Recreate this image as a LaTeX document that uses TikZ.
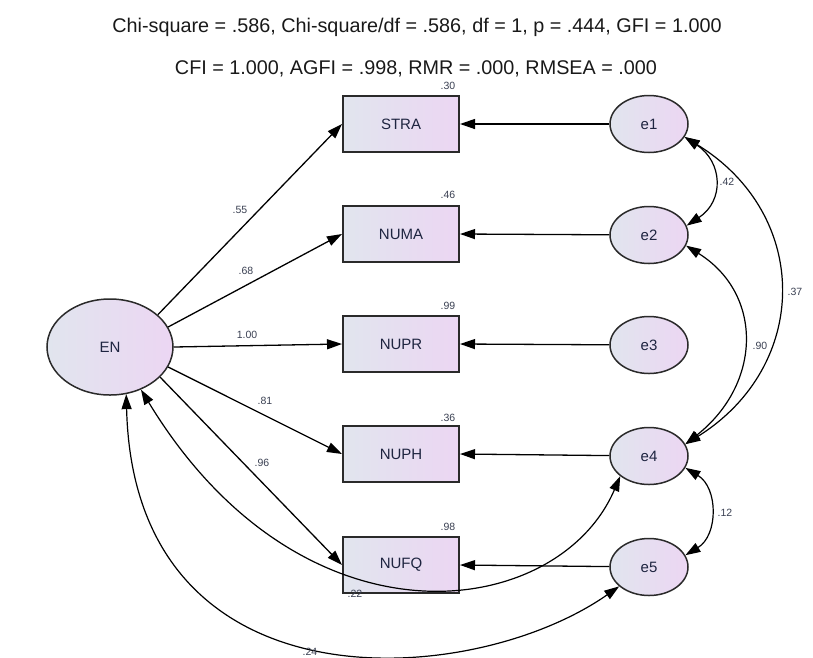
\documentclass[tikz,border=0pt]{standalone}
\usepackage{fontspec}
\setmainfont{Liberation Sans}
\usetikzlibrary{arrows.meta,shapes.geometric}
\definecolor{fillL}{HTML}{E1E5EE}
\definecolor{fillR}{HTML}{ECD6F3}
\definecolor{ink}{HTML}{1E2440}
\definecolor{coef}{HTML}{3A4052}
\definecolor{edge}{HTML}{2A2A2A}
\begin{document}
\begin{tikzpicture}[x=1pt,y=-1pt,
  >={Triangle[length=15pt,width=10pt]},
  latent/.style={ellipse, draw=edge, line width=1.5pt, left color=fillL, right color=fillR,
    minimum width=126pt, minimum height=96pt, inner sep=0pt,
    font=\fontsize{15}{18}\selectfont, text=ink},
  errv/.style={ellipse, draw=edge, line width=1.5pt, left color=fillL, right color=fillR,
    minimum width=78pt, minimum height=57pt, inner sep=0pt,
    font=\fontsize{15}{18}\selectfont, text=ink},
  obsbox/.style={rectangle, draw=edge, line width=2pt, left color=fillL, right color=fillR,
    minimum width=116pt, minimum height=56pt, inner sep=0pt,
    font=\fontsize{15}{18}\selectfont, text=ink},
  coeflab/.style={font=\fontsize{10.5}{12}\selectfont, text=coef, inner sep=0pt},
  fitlab/.style={font=\fontsize{19.8}{23}\selectfont, text=black!90, inner sep=0pt},
  regpath/.style={->, line width=1.3pt, draw=black},
  covpath/.style={<->, line width=1.2pt, draw=black}]

\useasboundingbox (0,0) rectangle (813,657);

% fit indices
\node[fitlab] (fit1) at (417,27) {Chi-square = .586, Chi-square/df = .586, df = 1, p = .444, GFI = 1.000};
\node[fitlab] (fit2) at (416,69) {CFI = 1.000, AGFI = .998, RMR = .000, RMSEA = .000};

% latent factor
\node[latent] (EN) at (110,347) {EN};

% observed indicators
\node[obsbox] (STRA) at (401,124) {STRA};
\node[obsbox] (NUMA) at (401,234) {NUMA};
\node[obsbox] (NUPR) at (401,344) {NUPR};
\node[obsbox] (NUPH) at (401,454) {NUPH};
\node[obsbox] (NUFQ) at (401,565) {NUFQ};

% error terms
\node[errv] (e1) at (649,124) {e1};
\node[errv] (e2) at (649,235) {e2};
\node[errv] (e3) at (649,345) {e3};
\node[errv] (e4) at (649,456) {e4};
\node[errv] (e5) at (649,567) {e5};

% squared multiple correlations
\node[coeflab] (r1) at (448,86) {.30};
\node[coeflab] (r2) at (448,195) {.46};
\node[coeflab] (r3) at (448,306) {.99};
\node[coeflab] (r4) at (448,418) {.36};
\node[coeflab] (r5) at (448,527) {.98};

% factor loadings
\draw[regpath] (EN.34) -- (STRA.west);
\draw[regpath] (EN.19) -- (NUMA.west);
\draw[regpath] (EN.0) -- (NUPR.west);
\draw[regpath] (EN.-19) -- (NUPH.west);
\draw[regpath] (EN.-31) -- (NUFQ.west);
\node[coeflab] (l1) at (240,210) {.55};
\node[coeflab] (l2) at (246,271) {.68};
\node[coeflab] (l3) at (247,335) {1.00};
\node[coeflab] (l4) at (265,401) {.81};
\node[coeflab] (l5) at (262,463) {.96};

% error paths
\draw[regpath] (e1) -- (STRA.east);
\draw[regpath] (e2) -- (NUMA.east);
\draw[regpath] (e3) -- (NUPR.east);
\draw[regpath] (e4) -- (NUPH.east);
\draw[regpath] (e5) -- (NUFQ.east);

% covariances among errors
\draw[covpath] (e1.-20) .. controls +(38,25) and +(38,-25) .. (e2.14);
\draw[covpath] (e1.-20) .. controls +(127,78) and +(125,-78) .. (e4.18);
\draw[covpath] (e2.-16) .. controls +(77,48) and +(77,-61) .. (e4.18);
\draw[covpath] (e4.-18) .. controls +(33,20) and +(33,-20) .. (e5.18);
\node[coeflab] (c12) at (727,182) {.42};
\node[coeflab] (c14) at (795,292) {.37};
\node[coeflab] (c24) at (760,346) {.90};
\node[coeflab] (c45) at (725,513) {.12};

% covariances between factor and errors
\draw[covpath] (EN.-54) .. controls +(162,267) and +(-62,145) .. (e4.-145);
\draw[covpath] (EN.-71) .. controls +(8,320) and +(-147,103) .. (e5.-147);
\node[coeflab] (c4) at (355,594) {.22};
\node[coeflab] (c5) at (310,652) {.24};

\end{tikzpicture}
\end{document}
